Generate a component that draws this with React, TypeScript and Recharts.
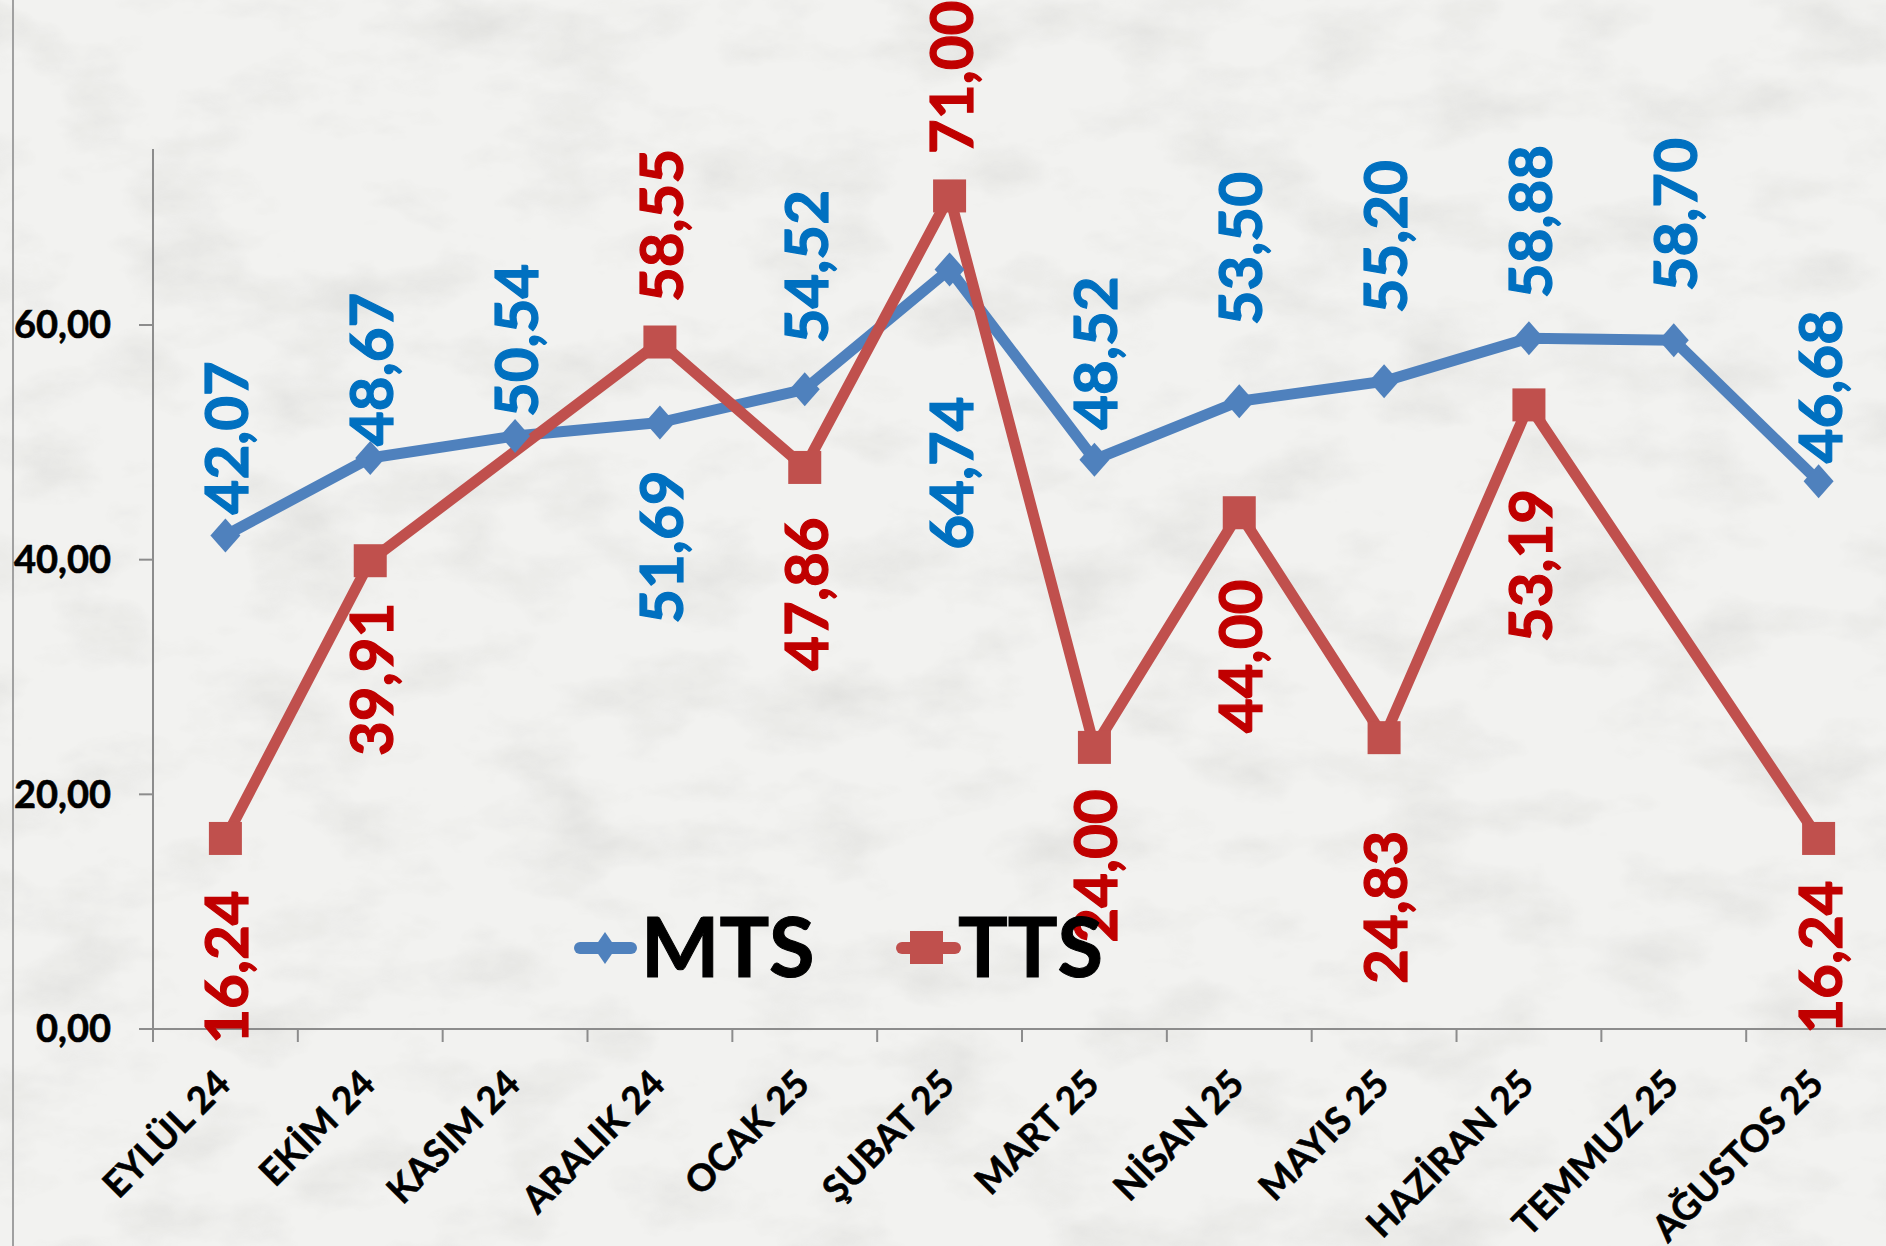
import React from 'react';
import { LineChart, Line, XAxis, YAxis, LabelList } from 'recharts';

const months = ['EYLÜL 24', 'EKİM 24', 'KASIM 24', 'ARALIK 24', 'OCAK 25', 'ŞUBAT 25', 'MART 25', 'NİSAN 25', 'MAYIS 25', 'HAZİRAN 25', 'TEMMUZ 25', 'AĞUSTOS 25'];
const mtsValues = [42.07, 48.67, 50.54, 51.69, 54.52, 64.74, 48.52, 53.5, 55.2, 58.88, 58.7, 46.68];
const ttsValues: (number | null)[] = [16.24, 39.91, null, 58.55, 47.86, 71.0, 24.0, 44.0, 24.83, 53.19, null, 16.24];
const yTicks = [0, 20, 40, 60];

// label placement (px from point; + above, - below)
const mtsLabelGap = [21, 12, 19, -48, 46, -127, 30, 76, 68, 40, 49, 18];
const ttsLabelGap = [-52, -42, 0, 40, -50, 42, -42, -67, -93, -84, 0, -42];

const data = months.map((m, i) => ({ month: m, MTS: mtsValues[i], TTS: ttsValues[i] }));

const FONT = 'Lato, "Open Sans", sans-serif';
const MTS_LINE = '#4F81BD';
const TTS_LINE = '#C0504D';
const MTS_TEXT = '#0070C0';
const TTS_TEXT = '#C00000';
const AXIS = '#8C8C8C';
const HALF_BAND = 72.4;

const fmt = (v: number) => v.toFixed(2).replace('.', ',');

const makeLabel = (gaps: number[], color: string) => (props: any) => {
  const { x, y, value, index } = props;
  if (value == null || x == null || y == null) return null;
  const g = gaps[index] ?? 30;
  const ay = y - g;
  return (
    <text
      x={x}
      y={ay}
      transform={`rotate(-90 ${x} ${ay})`}
      textAnchor={g >= 0 ? 'start' : 'end'}
      dominantBaseline="central"
      fill={color}
      stroke={color}
      strokeWidth={1.2}
      fontSize={60}
      fontWeight={700}
      fontFamily={FONT}
    >
      {fmt(Number(value))}
    </text>
  );
};

const DiamondDot = (props: any) => {
  const { cx, cy, value, index } = props;
  if (value == null || cx == null || cy == null) return <g key={`d${index}`} />;
  const w = 15, h = 17;
  return (
    <polygon
      key={`d${index}`}
      points={`${cx},${cy - h} ${cx + w},${cy} ${cx},${cy + h} ${cx - w},${cy}`}
      fill={MTS_LINE}
    />
  );
};

const SquareDot = (props: any) => {
  const { cx, cy, value, index } = props;
  if (value == null || cx == null || cy == null) return <g key={`s${index}`} />;
  const s = 16.5;
  return <rect key={`s${index}`} x={cx - s} y={cy - s} width={2 * s} height={2 * s} fill={TTS_LINE} />;
};

const XTick = (props: any) => {
  const { x, y, payload, index } = props;
  const ax = x + 7;
  const ay = y + 57;
  return (
    <g>
      <line x1={x - HALF_BAND} y1={y} x2={x - HALF_BAND} y2={y + 13} stroke={AXIS} strokeWidth={2} />
      {index === months.length - 1 && (
        <line x1={x + HALF_BAND} y1={y} x2={x + HALF_BAND} y2={y + 13} stroke={AXIS} strokeWidth={2} />
      )}
      <text
        x={ax}
        y={ay}
        transform={`rotate(-45 ${ax} ${ay})`}
        textAnchor="end"
        fill="#000"
        stroke="#000"
        strokeWidth={0.6}
        fontSize={37}
        fontWeight={700}
        fontFamily={FONT}
      >
        {payload.value}
      </text>
    </g>
  );
};

const LegendBox = () => (
  <svg width={560} height={130} style={{ position: 'absolute', left: 560, top: 890, display: 'block' }}>
    <line x1={20} y1={58} x2={71} y2={58} stroke={MTS_LINE} strokeWidth={12} strokeLinecap="round" />
    <polygon points="45,42 56,58 45,74 34,58" fill={MTS_LINE} />
    <text x={81} y={87} fontSize={83} fontWeight={700} fontFamily={FONT} fill="#000" stroke="#000" strokeWidth={1}>MTS</text>
    <line x1={342} y1={58} x2={395} y2={58} stroke={TTS_LINE} strokeWidth={12} strokeLinecap="round" />
    <rect x={350} y={41} width={33} height={33} fill={TTS_LINE} />
    <text x={398} y={87} fontSize={83} fontWeight={700} fontFamily={FONT} fill="#000" stroke="#000" strokeWidth={1}>TTS</text>
  </svg>
);

const Marble = () => (
  <svg width={1886} height={1246} style={{ position: 'absolute', left: 0, top: 0 }}>
    <defs>
      <filter id="marble" x="0" y="0" width="100%" height="100%">
        <feTurbulence type="fractalNoise" baseFrequency="0.008 0.015" numOctaves={5} seed={7} result="n" />
        <feColorMatrix
          in="n"
          type="matrix"
          values="0 0 0 0 0.55  0 0 0 0 0.55  0 0 0 0 0.53  0 0 0 -1.6 0.85"
        />
      </filter>
    </defs>
    <rect width={1886} height={1246} fill="#F2F2F0" />
    <rect width={1886} height={1246} filter="url(#marble)" opacity={0.45} />
  </svg>
);

export default function App() {
  return (
    <div
      style={{
        position: 'fixed',
        left: 0,
        top: 0,
        width: 1886,
        height: 1246,
        overflow: 'hidden',
        background: '#F0F0EE',
      }}
    >
      <Marble />
      <div style={{ position: 'absolute', left: 12, top: 0, width: 2, height: 1246, background: '#A0A0A0' }} />
      <div style={{ position: 'absolute', left: 0, top: 0 }}>
        <LineChart
          width={1891}
          height={1246}
          data={data}
          margin={{ top: 149, right: 0, bottom: 0, left: 0 }}
        >
          <XAxis
            dataKey="month"
            interval={0}
            height={217}
            padding={{ left: HALF_BAND, right: HALF_BAND }}
            tickSize={0}
            tickMargin={0}
            tickLine={false}
            axisLine={{ stroke: AXIS, strokeWidth: 2 }}
            tick={<XTick />}
          />
          <YAxis
            width={153}
            domain={[0, 75]}
            ticks={yTicks}
            allowDataOverflow
            tickFormatter={(v: number) => fmt(v)}
            tickSize={14}
            tickMargin={28}
            axisLine={{ stroke: AXIS, strokeWidth: 2 }}
            tickLine={{ stroke: AXIS, strokeWidth: 2 }}
            tick={{ fill: '#000', stroke: '#000', strokeWidth: 0.6, fontSize: 38, fontWeight: 700, fontFamily: FONT }}
          />
          <Line
            dataKey="MTS"
            stroke={MTS_LINE}
            strokeWidth={11}
            strokeLinejoin="round"
            dot={<DiamondDot />}
            activeDot={false}
            isAnimationActive={false}
          >
            <LabelList dataKey="MTS" content={makeLabel(mtsLabelGap, MTS_TEXT)} />
          </Line>
          <Line
            dataKey="TTS"
            stroke={TTS_LINE}
            strokeWidth={11}
            strokeLinejoin="round"
            connectNulls
            dot={<SquareDot />}
            activeDot={false}
            isAnimationActive={false}
          >
            <LabelList dataKey="TTS" content={makeLabel(ttsLabelGap, TTS_TEXT)} />
          </Line>
        </LineChart>
      </div>
      <LegendBox />
    </div>
  );
}
